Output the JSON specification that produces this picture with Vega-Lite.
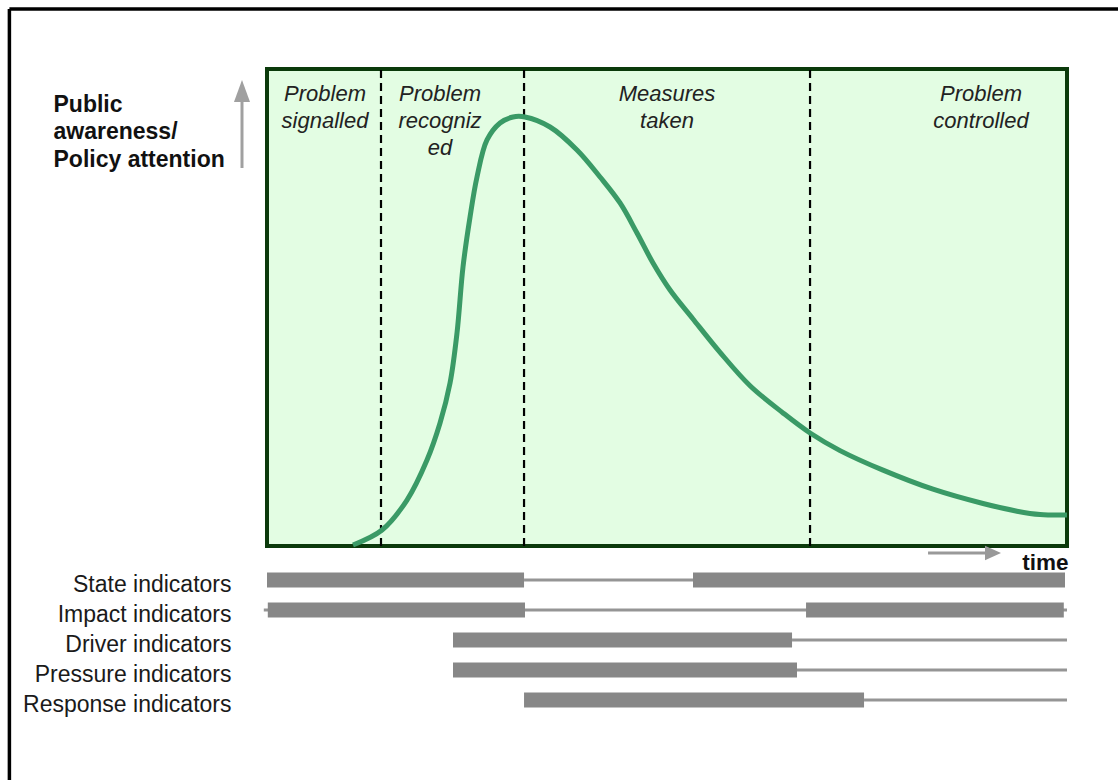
{
  "$schema": "https://vega.github.io/schema/vega-lite/v6.json",
  "autosize": {"type": "none"},
  "width": 800,
  "height": 646,
  "padding": {"left": 267, "top": 69, "right": 51, "bottom": 65},
  "background": "white",
  "config": {"font": "Liberation Sans", "axis": {"grid": false}, "view": {"stroke": null}},
  "datasets": {
    "box": [{"t": 0, "t2": 100, "a": 0, "a2": 100}],
    "curve": [
      {"t": 10.75, "a": 0.21}, {"t": 14.38, "a": 3.35}, {"t": 17.5, "a": 9.64}, {"t": 20.0, "a": 18.03},
      {"t": 21.63, "a": 25.79}, {"t": 22.88, "a": 34.17}, {"t": 23.75, "a": 44.65}, {"t": 24.5, "a": 58.49},
      {"t": 25.38, "a": 68.97}, {"t": 26.25, "a": 77.36}, {"t": 27.5, "a": 85.12}, {"t": 29.13, "a": 88.68},
      {"t": 30.75, "a": 89.94}, {"t": 32.25, "a": 89.94}, {"t": 35.38, "a": 87.84}, {"t": 38.75, "a": 83.02},
      {"t": 41.63, "a": 77.36}, {"t": 44.13, "a": 71.91}, {"t": 46.25, "a": 65.62}, {"t": 48.25, "a": 59.33},
      {"t": 50.38, "a": 53.67}, {"t": 53.25, "a": 47.6}, {"t": 56.63, "a": 40.6}, {"t": 60.38, "a": 33.6},
      {"t": 64.5, "a": 27.9}, {"t": 67.88, "a": 23.69}, {"t": 71.63, "a": 20.0}, {"t": 77.0, "a": 15.9},
      {"t": 83.25, "a": 11.9}, {"t": 89.5, "a": 8.9}, {"t": 93.75, "a": 7.3}, {"t": 96.63, "a": 6.6},
      {"t": 100, "a": 6.5}
    ],
    "phases": [
      {"t": 14.25, "a": 0, "a2": 100}, {"t": 32.13, "a": 0, "a2": 100}, {"t": 67.88, "a": 0, "a2": 100}
    ],
    "phaseLabels": [
      {"t": 7.25, "a": 93.3, "label": "Problem\nsignalled"},
      {"t": 21.63, "a": 93.3, "label": "Problem\nrecogniz\ned"},
      {"t": 50, "a": 93.3, "label": "Measures\ntaken"},
      {"t": 89.25, "a": 93.3, "label": "Problem\ncontrolled"}
    ],
    "upArrow": [{"t": -3.125, "a": 79.25, "a2": 93.5, "head": 95.4}],
    "timeArrow": [{"t": 82.63, "t2": 90.0, "head": 90.75, "a": -1.47}],
    "frame": [
      {"t": -32.2, "t2": -32.2, "a": 112.58, "a2": -55},
      {"t": -32.2, "t2": 110, "a": 112.58, "a2": 112.58}
    ],
    "indicatorLines": [
      {"indicator": "State indicators", "start": 32.13, "end": 53.25},
      {"indicator": "Impact indicators", "start": -0.4, "end": 100},
      {"indicator": "Driver indicators", "start": 65.63, "end": 100},
      {"indicator": "Pressure indicators", "start": 66.25, "end": 100},
      {"indicator": "Response indicators", "start": 74.63, "end": 100}
    ],
    "indicatorActive": [
      {"indicator": "State indicators", "start": 0, "end": 32.13},
      {"indicator": "State indicators", "start": 53.25, "end": 99.75},
      {"indicator": "Impact indicators", "start": 0.1, "end": 32.25},
      {"indicator": "Impact indicators", "start": 67.38, "end": 99.6},
      {"indicator": "Driver indicators", "start": 23.25, "end": 65.63},
      {"indicator": "Pressure indicators", "start": 23.25, "end": 66.25},
      {"indicator": "Response indicators", "start": 32.13, "end": 74.63}
    ]
  },
  "resolve": {"scale": {"y": "independent"}, "axis": {"y": "independent"}},
  "layer": [
    {
      "encoding": {
        "x": {
          "field": "t", "type": "quantitative",
          "scale": {"domain": [0, 100], "nice": false, "zero": false},
          "axis": {
            "domain": false, "ticks": false, "labels": false, "grid": false,
            "title": "time", "titleFontSize": 22.5, "titleFontWeight": "bold", "titleColor": "#111",
            "titleAlign": "right", "titleAnchor": null, "titleX": 801, "titleY": -153, "titleBaseline": "middle"
          }
        },
        "y": {
          "field": "a", "type": "quantitative",
          "scale": {"domain": [0, 100], "range": [477, 0], "nice": false, "zero": false},
          "axis": {
            "orient": "left", "domain": false, "ticks": false, "labels": false, "grid": false,
            "title": ["Public", "awareness/", "Policy attention"],
            "titleFontSize": 23, "titleFontWeight": "bold", "titleColor": "#111",
            "titleAngle": 0, "titleAlign": "left", "titleBaseline": "alphabetic",
            "titleX": -214, "titleY": 42, "titleLineHeight": 27.5
          }
        }
      },
      "layer": [
        {
          "data": {"name": "box"},
          "mark": {"type": "rect", "fill": "#e3fde3", "stroke": "#0b3a0b", "strokeWidth": 4},
          "encoding": {"x2": {"field": "t2"}, "y2": {"field": "a2"}}
        },
        {
          "data": {"name": "frame"},
          "mark": {"type": "rule", "color": "black", "strokeWidth": 3.5, "clip": false},
          "encoding": {"x2": {"field": "t2"}, "y2": {"field": "a2"}}
        },
        {
          "data": {"name": "phases"},
          "mark": {"type": "rule", "color": "black", "strokeWidth": 2.2, "strokeDash": [8, 5]},
          "encoding": {"y2": {"field": "a2"}}
        },
        {
          "data": {"name": "curve"},
          "mark": {"type": "line", "color": "#3a9a66", "strokeWidth": 5, "interpolate": "catmull-rom"}
        },
        {
          "data": {"name": "phaseLabels"},
          "mark": {"type": "text", "fontSize": 22, "fontStyle": "italic", "color": "#222", "align": "center", "baseline": "alphabetic", "lineBreak": "\n", "lineHeight": 27},
          "encoding": {"text": {"field": "label"}}
        },
        {
          "data": {"name": "upArrow"},
          "mark": {"type": "rule", "color": "#a0a0a0", "strokeWidth": 3, "clip": false},
          "encoding": {"y2": {"field": "a2"}}
        },
        {
          "data": {"name": "upArrow"},
          "mark": {"type": "point", "shape": "M0,-1L0.73,1L-0.73,1Z", "filled": true, "color": "#a0a0a0", "size": 484, "opacity": 1, "clip": false},
          "encoding": {"y": {"field": "head", "type": "quantitative"}}
        },
        {
          "data": {"name": "timeArrow"},
          "mark": {"type": "rule", "color": "#999", "strokeWidth": 3, "clip": false},
          "encoding": {"x2": {"field": "t2"}}
        },
        {
          "data": {"name": "timeArrow"},
          "mark": {"type": "point", "shape": "M1,0L-1,-0.9L-1,0.9Z", "filled": true, "color": "#999", "size": 256, "opacity": 1, "clip": false},
          "encoding": {"x": {"field": "head", "type": "quantitative"}}
        }
      ]
    },
    {
      "encoding": {
        "y": {
          "field": "indicator", "type": "nominal",
          "sort": ["State indicators", "Impact indicators", "Driver indicators", "Pressure indicators", "Response indicators"],
          "scale": {"range": [496, 646], "paddingInner": 0, "paddingOuter": 0},
          "axis": {
            "orient": "left", "title": null, "domain": false, "ticks": false, "labelFontSize": 23, "labelColor": "#1a1a1a",
            "labelPadding": 36, "labelOffset": 5, "labelLimit": 300
          }
        },
        "x": {"field": "start", "type": "quantitative"},
        "x2": {"field": "end"}
      },
      "layer": [
        {
          "data": {"name": "indicatorLines"},
          "mark": {"type": "rule", "color": "#959595", "strokeWidth": 3}
        },
        {
          "data": {"name": "indicatorActive"},
          "mark": {"type": "bar", "color": "#878787", "height": 15}
        }
      ]
    }
  ]
}
